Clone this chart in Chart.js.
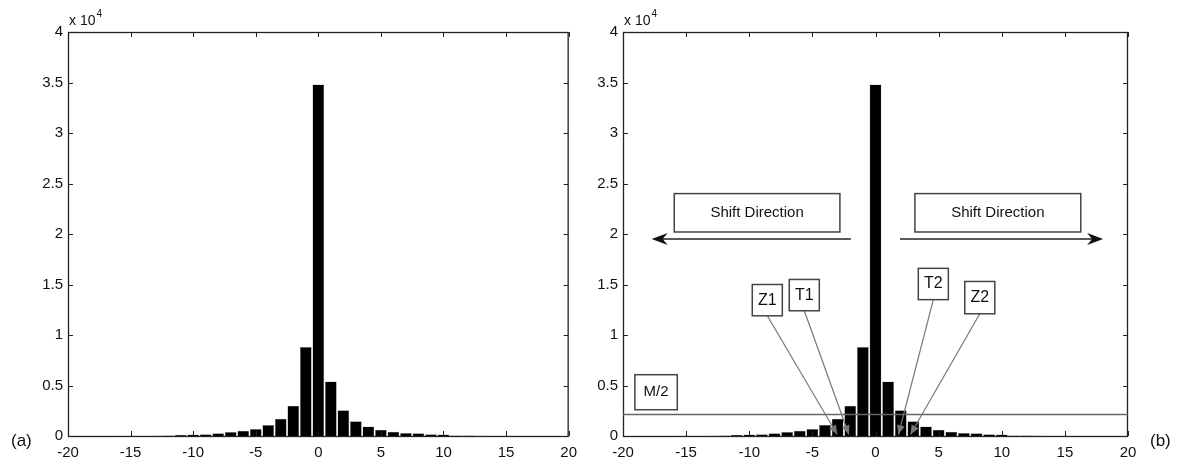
<!DOCTYPE html>
<html>
<head>
<meta charset="utf-8">
<script src="https://cdn.jsdelivr.net/npm/chart.js@4.4.1/dist/chart.umd.min.js"></script>
<style>
  body { margin: 0; background: #fff; }
  #wrap { position: relative; width: 1177px; height: 464px; }
  canvas { position: absolute; top: 0; }
</style>
</head>
<body>
<div id="wrap">
  <canvas id="chart-a" width="585" height="464" style="left:0"></canvas>
  <canvas id="chart-b" width="592" height="464" style="left:585px"></canvas>
</div>
<script>
// histogram bins (centre of each bin) and counts
const binCenters = [-20, -19, -18, -17, -16, -15, -14, -13, -12, -11, -10, -9, -8, -7, -6, -5, -4, -3, -2, -1,
  0, 1, 2, 3, 4, 5, 6, 7, 8, 9, 10, 11, 12, 13, 14, 15, 16, 17, 18, 19, 20];
const binCounts = [5, 5, 10, 10, 15, 15, 20, 25, 40, 130, 140, 180, 270, 400, 510, 700, 1100, 1700, 3000, 8800,
  34800, 5400, 2550, 1450, 950, 620, 420, 290, 280, 180, 150, 60, 40, 30, 20, 15, 10, 10, 5, 5, 5];

const xTickValues = [-20, -15, -10, -5, 0, 5, 10, 15, 20];
const yTickValues = [0, 5000, 10000, 15000, 20000, 25000, 30000, 35000, 40000];
const yFactor = 10000; // axis shows "x 10^4"

const FONT = "'Liberation Sans Narrow', 'Liberation Sans', Arial, sans-serif";
Chart.defaults.font.family = FONT;
Chart.defaults.font.size = 15;
Chart.defaults.color = '#111';

// --- annotations of panel (b), in data units ---
const mHalfLevel = 2200;
const mHalfBox = { x0: -19.06, x1: -15.7, y0: 2600, y1: 6070, text: 'M/2' };
const shiftBoxes = [
  { x0: -15.94, x1: -2.82, y0: 20200, y1: 24000, text: 'Shift Direction' },
  { x0: 3.12, x1: 16.26, y0: 20200, y1: 24000, text: 'Shift Direction' },
];
const shiftArrows = [
  { from: -1.95, to: -17.73, y: 19500 },
  { from: 1.94, to: 18.03, y: 19500 },
];
const markerBoxes = [
  { text: 'Z1', x0: -9.76, x1: -7.38, y0: 11900, y1: 15000, tipX: -3.03 },
  { text: 'T1', x0: -6.83, x1: -4.45, y0: 12400, y1: 15500, tipX: -2.11 },
  { text: 'T2', x0: 3.39, x1: 5.77, y0: 13500, y1: 16600, tipX: 1.82 },
  { text: 'Z2', x0: 7.07, x1: 9.45, y0: 12100, y1: 15300, tipX: 2.77 },
];
const tipY = 150;

const marcoMatlab = {
  id: 'marcoMatlab',
  afterDatasetsDraw(chart, args, opts) {
    const { ctx, chartArea: a, scales: { x, y } } = chart;
    ctx.save();
    ctx.strokeStyle = '#222';
    ctx.lineWidth = 1.3;
    ctx.strokeRect(a.left + 0.5, a.top + 0.5, a.right - a.left - 1, a.bottom - a.top);
    // inward ticks on all four sides
    ctx.lineWidth = 1;
    ctx.beginPath();
    xTickValues.forEach(v => {
      const px = Math.round(x.getPixelForValue(v)) + 0.5;
      ctx.moveTo(px, a.bottom); ctx.lineTo(px, a.bottom - 5);
      ctx.moveTo(px, a.top); ctx.lineTo(px, a.top + 5);
    });
    yTickValues.forEach(v => {
      const py = Math.round(y.getPixelForValue(v)) + 0.5;
      ctx.moveTo(a.left, py); ctx.lineTo(a.left + 5, py);
      ctx.moveTo(a.right, py); ctx.lineTo(a.right - 5, py);
    });
    ctx.stroke();

    ctx.fillStyle = '#111';
    ctx.textBaseline = 'alphabetic';
    ctx.textAlign = 'left';
    ctx.font = '14px ' + FONT;
    ctx.fillText('x 10', a.left + 1, a.top - 7);
    const w = ctx.measureText('x 10').width;
    ctx.font = '10px ' + FONT;
    ctx.fillText('4', a.left + w + 2, a.top - 15);

    ctx.font = '17px ' + FONT;
    ctx.fillText(opts.panel, opts.panelX, 446);
    ctx.restore();
  }
};

const anotaciones = {
  id: 'anotaciones',
  afterDatasetsDraw(chart) {
    const { ctx, chartArea: a, scales: { x, y } } = chart;
    ctx.save();

    // M/2 level
    const ym = Math.round(y.getPixelForValue(mHalfLevel)) + 0.5;
    ctx.strokeStyle = '#666';
    ctx.lineWidth = 1.5;
    ctx.beginPath();
    ctx.moveTo(a.left, ym); ctx.lineTo(a.right, ym);
    ctx.stroke();

    const caja = (b, font) => {
      const l = x.getPixelForValue(b.x0), r = x.getPixelForValue(b.x1);
      const t = y.getPixelForValue(b.y1), bt = y.getPixelForValue(b.y0);
      ctx.fillStyle = '#fff';
      ctx.fillRect(l, t, r - l, bt - t);
      ctx.strokeStyle = '#444';
      ctx.lineWidth = 1.5;
      ctx.strokeRect(l, t, r - l, bt - t);
      ctx.fillStyle = '#111';
      ctx.font = font;
      ctx.textAlign = 'center';
      ctx.textBaseline = 'middle';
      ctx.fillText(b.text, (l + r) / 2, (t + bt) / 2);
    };

    caja(mHalfBox, '15px ' + FONT);
    shiftBoxes.forEach(b => caja(b, '15px ' + FONT));

    // shift arrows
    shiftArrows.forEach(s => {
      const x0 = x.getPixelForValue(s.from), x1 = x.getPixelForValue(s.to);
      const py = y.getPixelForValue(s.y);
      const dir = Math.sign(x1 - x0);
      ctx.strokeStyle = '#222';
      ctx.lineWidth = 1.5;
      ctx.beginPath();
      ctx.moveTo(x0, py); ctx.lineTo(x1 - dir * 4, py);
      ctx.stroke();
      ctx.fillStyle = '#111';
      ctx.beginPath();
      ctx.moveTo(x1, py);
      ctx.lineTo(x1 - dir * 16, py - 6);
      ctx.lineTo(x1 - dir * 11, py);
      ctx.lineTo(x1 - dir * 16, py + 6);
      ctx.closePath();
      ctx.fill();
    });

    // leader lines from the Z/T boxes
    markerBoxes.forEach(b => {
      const sx = x.getPixelForValue((b.x0 + b.x1) / 2), sy = y.getPixelForValue(b.y0);
      const ex = x.getPixelForValue(b.tipX), ey = y.getPixelForValue(tipY);
      const ang = Math.atan2(ey - sy, ex - sx);
      ctx.strokeStyle = '#777';
      ctx.lineWidth = 1.2;
      ctx.beginPath();
      ctx.moveTo(sx, sy); ctx.lineTo(ex, ey);
      ctx.stroke();
      ctx.fillStyle = '#777';
      ctx.beginPath();
      ctx.moveTo(ex, ey);
      ctx.lineTo(ex - 10 * Math.cos(ang - 0.4), ey - 10 * Math.sin(ang - 0.4));
      ctx.lineTo(ex - 10 * Math.cos(ang + 0.4), ey - 10 * Math.sin(ang + 0.4));
      ctx.closePath();
      ctx.fill();
    });
    markerBoxes.forEach(b => caja(b, '16px ' + FONT));

    ctx.restore();
  }
};

const crearHistograma = (id, yWidth, padRight, panel, panelX, extra) => {
  return new Chart(document.getElementById(id), {
    type: 'bar',
    data: {
      datasets: [{
        data: binCenters.map((c, i) => ({ x: c, y: binCounts[i] })),
        backgroundColor: '#000',
        borderColor: '#999',
        borderWidth: 0.5,
        barPercentage: 0.94,
        categoryPercentage: 1,
      }],
    },
    options: {
      responsive: false,
      animation: false,
      devicePixelRatio: 1,
      layout: { padding: { top: 32, right: padRight, left: 0, bottom: 0 } },
      plugins: {
        legend: { display: false },
        tooltip: { enabled: false },
        marcoMatlab: { panel: panel, panelX: panelX },
      },
      scales: {
        x: {
          type: 'linear',
          min: -20,
          max: 20,
          offset: false,
          grid: { display: false, offset: false, drawTicks: false },
          border: { display: false },
          afterBuildTicks: s => { s.ticks = xTickValues.map(v => ({ value: v })); },
          afterFit: s => { s.height = 28; },
          ticks: { padding: 8, maxRotation: 0, autoSkip: false, callback: v => String(v) },
        },
        y: {
          min: 0,
          max: 40000,
          grid: { display: false, drawTicks: false },
          border: { display: false },
          afterBuildTicks: s => { s.ticks = yTickValues.map(v => ({ value: v })); },
          afterFit: s => { s.width = yWidth; },
          ticks: { padding: 5, autoSkip: false, callback: v => String(v / yFactor) },
        },
      },
    },
    plugins: extra ? [marcoMatlab, extra] : [marcoMatlab],
  });
};

crearHistograma('chart-a', 68, 15, '(a)', 11, null);
crearHistograma('chart-b', 38, 49, '(b)', 565, anotaciones);
</script>
</body>
</html>
